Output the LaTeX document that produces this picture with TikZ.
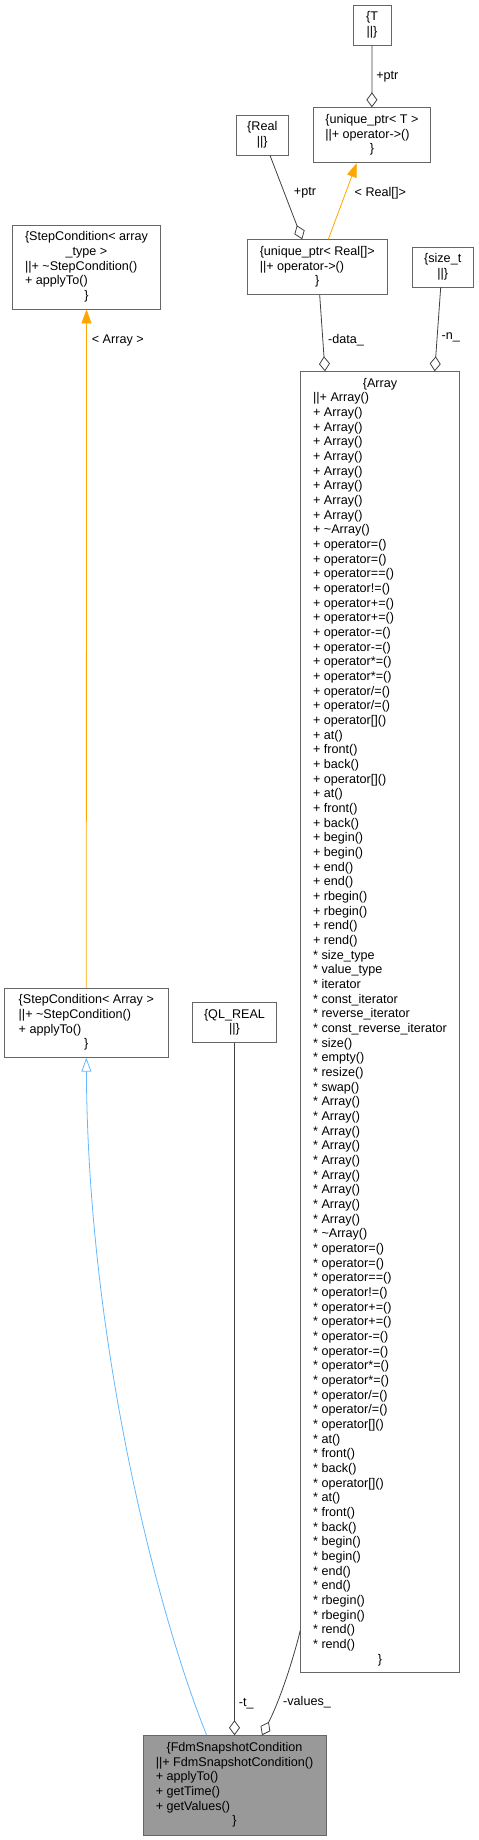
\documentclass[tikz,border=0pt]{standalone}
\usepackage{fontspec}
\setmainfont{Liberation Sans}
\usetikzlibrary{arrows.meta}
\definecolor{edgegray}{HTML}{404040}
\definecolor{boxgray}{HTML}{666666}
\definecolor{fillgray}{HTML}{999999}
\definecolor{inhblue}{HTML}{63B8FF}
\definecolor{tmplorange}{HTML}{FFA500}
\newcommand{\classfont}{\fontsize{12.6pt}{14.67pt}\selectfont}
\newcommand{\ctr}[1]{\multicolumn{1}{@{}c@{}}{#1}}
\newcommand{\arrayrest}[1]{%
\\{}#1 Array()\\{}#1 Array()\\{}#1 Array()\\{}#1 Array()%
\\{}#1 Array()\\{}#1 Array()\\{}#1 Array()\\{}#1 Array()%
\\{}#1 \textasciitilde Array()%
\\{}#1 operator=()\\{}#1 operator=()%
\\{}#1 operator==()\\{}#1 operator!=()%
\\{}#1 operator+=()\\{}#1 operator+=()%
\\{}#1 operator-=()\\{}#1 operator-=()%
\\{}#1 operator*=()\\{}#1 operator*=()%
\\{}#1 operator/=()\\{}#1 operator/=()%
\\{}#1 operator[]()\\{}#1 at()\\{}#1 front()\\{}#1 back()%
\\{}#1 operator[]()\\{}#1 at()\\{}#1 front()\\{}#1 back()%
\\{}#1 begin()\\{}#1 begin()\\{}#1 end()\\{}#1 end()%
\\{}#1 rbegin()\\{}#1 rbegin()\\{}#1 rend()\\{}#1 rend()}
\begin{document}
\begin{tikzpicture}[x=1pt,y=-1pt,
  cls/.style={draw=boxgray, line width=0.8pt, fill=white, inner sep=0pt, font=\classfont},
  aggr/.style={draw=edgegray, line width=0.8pt, {Diamond[open,length=15pt,width=11pt]}-},
  tmpl/.style={draw=tmplorange, line width=0.8pt, -{Triangle[length=14pt,width=10pt]}},
  inh/.style={draw=inhblue, line width=0.8pt, -{Triangle[open,length=14pt,width=10pt]}},
  lbl/.style={font=\classfont, inner sep=0pt}]
\useasboundingbox (0,0) rectangle (479,1840);
\node[cls, minimum width=38pt, minimum height=40pt] (T) at (372,25)
  {\begin{tabular}{@{}c@{}}\{T\\||\}\end{tabular}};
\node[cls, minimum width=117.7pt, minimum height=55pt] (uptrT) at (371.9,135.2)
  {\begin{tabular}{@{}l@{}}\ctr{\{unique\_ptr< T >}\\||+ operator->()\\\ctr{\}}\end{tabular}};
\node[cls, minimum width=52.7pt, minimum height=40pt] (Real) at (262.3,135)
  {\begin{tabular}{@{}c@{}}\{Real\\||\}\end{tabular}};
\node[cls, minimum width=140.3pt, minimum height=55pt] (uptrReal) at (317.2,267.2)
  {\begin{tabular}{@{}l@{}}\ctr{\{unique\_ptr< Real[]>}\\||+ operator->()\\\ctr{\}}\end{tabular}};
\node[cls, minimum width=61.3pt, minimum height=40pt] (sizet) at (442.7,267)
  {\begin{tabular}{@{}c@{}}\{size\_t\\||\}\end{tabular}};
\node[cls, minimum width=148.4pt, minimum height=83.7pt] (stepT) at (86.5,267.2)
  {\begin{tabular}{@{}l@{}}\ctr{\{StepCondition< array}\\\ctr{\_type >}\\||+ \textasciitilde StepCondition()\\+ applyTo()\\\ctr{\}}\end{tabular}};
\node[cls, minimum width=158.6pt, minimum height=1301pt] (array) at (380,1022.2)
  {\begin{tabular}{@{}l@{}}\ctr{\{Array}\\||+ Array()\arrayrest{+}%
  \\{}* size\_type\\{}* value\_type\\{}* iterator\\{}* const\_iterator%
  \\{}* reverse\_iterator\\{}* const\_reverse\_iterator%
  \\{}* size()\\{}* empty()\\{}* resize()\\{}* swap()%
  \\{}* Array()\arrayrest{*}\\\ctr{\}}\end{tabular}};
\node[cls, minimum width=163.3pt, minimum height=69pt] (stepA) at (86.3,1022.8)
  {\begin{tabular}{@{}l@{}}\{StepCondition< Array >\\||+ \textasciitilde StepCondition()\\+ applyTo()\\\ctr{\}}\end{tabular}};
\node[cls, minimum width=84.4pt, minimum height=40pt] (qlreal) at (234.5,1022.7)
  {\begin{tabular}{@{}c@{}}\{QL\_REAL\\||\}\end{tabular}};
\node[cls, fill=fillgray, minimum width=183pt, minimum height=99.3pt] (fdm) at (234.5,1785.3)
  {\begin{tabular}{@{}l@{}}\ctr{\{FdmSnapshotCondition}\\||+ FdmSnapshotCondition()\\+ applyTo()\\+ getTime()\\+ getValues()\\\ctr{\}}\end{tabular}};
\draw[aggr] (uptrT.north) -- (T.south) node[lbl, midway, right, xshift=4pt] (ptrT) {+ptr};
\draw[aggr] ([xshift=-15pt]uptrReal.north) -- ([xshift=7.7pt]Real.south)
  node[lbl, pos=0.55, right, xshift=9pt] (ptrReal) {+ptr};
\draw[tmpl] ([xshift=11.1pt]uptrReal.north) -- ([xshift=-15.2pt]uptrT.south)
  node[lbl, pos=0.6, right, xshift=9pt] (realarg) {< Real[]>};
\draw[aggr] ([xshift=-55pt]array.north) -- ([xshift=2.5pt]uptrReal.south)
  node[lbl, pos=0.41, right, xshift=5pt] (data) {-data\_};
\draw[aggr] ([xshift=54.7pt]array.north) -- ([xshift=-2pt]sizet.south)
  node[lbl, pos=0.41, right, xshift=4pt] (n) {-n\_};
\draw[tmpl] (stepA.north) -- (stepT.south)
  node[lbl, pos=0.954, right, xshift=5pt] (arrayarg) {< Array >};
\draw[inh] ([xshift=-27.8pt]fdm.north) .. controls (160,1620) and (88,1350) .. (stepA.south);
\draw[aggr] (fdm.north -| qlreal.south) -- (qlreal.south)
  node[lbl, pos=0.046, right, xshift=4pt] (t) {-t\_};
\draw[aggr] ([xshift=27.5pt]fdm.north) .. controls (280,1700) and (293,1660) .. ([yshift=42.7pt]array.south west)
  node[lbl, pos=0.3, right, xshift=6pt] (values) {-values\_};
\end{tikzpicture}
\end{document}
